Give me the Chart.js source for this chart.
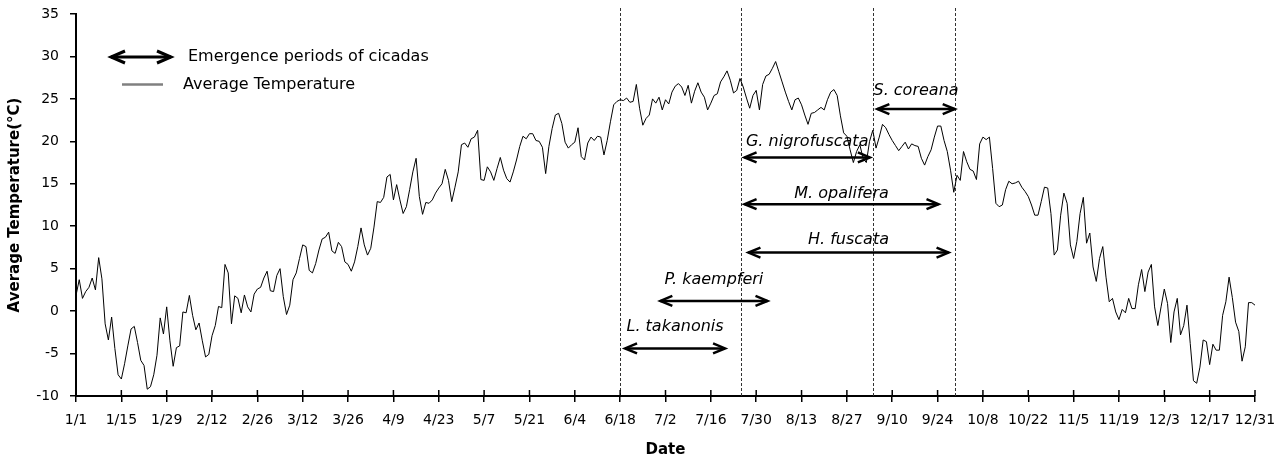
<!DOCTYPE html>
<html>
<head>
<meta charset="utf-8">
<script src="https://cdn.jsdelivr.net/npm/chart.js@4.4.1/dist/chart.umd.min.js"></script>
<style>
    html, body { margin: 0; padding: 0; background: #fff; }
    #wrap { width: 1285px; height: 464px; }
</style>
</head>
<body>
<div id="wrap"><canvas id="tempChart" width="1285" height="464"></canvas></div>
<script>
// daily average temperature, index 0 = 1/1 ... 364 = 12/31
const temps = [
    1.85, 3.7, 1.5, 2.3, 2.8, 3.9, 2.5, 6.3, 3.8, -1.5,
    -3.4, -0.7, -4.4, -7.5, -8.0, -6.2, -4.1, -2.1, -1.8, -3.7,
    -5.8, -6.4, -9.2, -8.9, -7.5, -5.2, -0.8, -2.7, 0.5, -3.5,
    -6.5, -4.3, -4.1, -0.1, -0.2, 1.85, -0.5, -2.2, -1.4, -3.5,
    -5.4, -5.1, -2.9, -1.7, 0.55, 0.4, 5.5, 4.5, -1.5, 1.8,
    1.5, -0.2, 1.9, 0.5, -0.1, 2.0, 2.6, 2.8, 3.9, 4.7,
    2.4, 2.3, 4.2, 5.0, 1.7, -0.4, 0.7, 3.7, 4.5, 6.2,
    7.8, 7.6, 4.8, 4.5, 5.6, 7.2, 8.5, 8.7, 9.3, 7.1,
    6.8, 8.1, 7.6, 5.8, 5.5, 4.7, 5.8, 7.6, 9.8, 7.8,
    6.6, 7.4, 9.9, 12.9, 12.8, 13.4, 15.8, 16.1, 13.1, 14.9,
    13.1, 11.5, 12.3, 14.3, 16.4, 18.0, 13.5, 11.4, 12.8, 12.7,
    13.1, 13.9, 14.5, 15.0, 16.7, 15.4, 12.9, 14.6, 16.4, 19.6,
    19.8, 19.3, 20.3, 20.5, 21.3, 15.5, 15.4, 17.0, 16.4, 15.4,
    16.8, 18.1, 16.6, 15.6, 15.2, 16.4, 17.8, 19.4, 20.6, 20.3,
    20.9, 20.9, 20.1, 20.0, 19.3, 16.2, 19.4, 21.5, 23.1, 23.3,
    22.1, 19.9, 19.2, 19.6, 19.9, 21.6, 18.2, 17.8, 19.8, 20.5,
    20.1, 20.6, 20.5, 18.4, 20.1, 22.3, 24.3, 24.7, 24.9, 24.8,
    25.1, 24.6, 24.7, 26.7, 23.9, 21.9, 22.7, 23.1, 25.0, 24.5,
    25.2, 23.7, 24.9, 24.4, 25.8, 26.5, 26.8, 26.4, 25.4, 26.6,
    24.5, 25.9, 26.9, 25.8, 25.2, 23.7, 24.5, 25.4, 25.6, 27.0,
    27.6, 28.3, 27.2, 25.7, 26.0, 27.4, 26.4, 25.1, 23.9, 25.4,
    26.0, 23.7, 26.7, 27.7, 27.9, 28.6, 29.4, 28.2, 27.0, 25.8,
    24.7, 23.7, 24.9, 25.1, 24.3, 23.1, 22.0, 23.3, 23.4, 23.7,
    24.0, 23.7, 24.9, 25.8, 26.1, 25.4, 23.0, 21.0, 20.6, 19.0,
    17.5, 18.8, 19.6, 18.0, 17.5, 20.0, 21.3, 19.2, 20.5, 22.0,
    21.6, 20.8, 20.1, 19.5, 18.9, 19.4, 19.9, 19.1, 19.7, 19.5,
    19.4, 18.0, 17.2, 18.2, 19.0, 20.5, 21.8, 21.8, 20.1, 18.8,
    16.6, 14.0, 16.0, 15.4, 18.8, 17.6, 16.7, 16.5, 15.5, 19.7,
    20.5, 20.2, 20.5, 16.8, 12.7, 12.3, 12.5, 14.3, 15.3, 15.0,
    15.1, 15.3, 14.6, 14.1, 13.5, 12.5, 11.3, 11.3, 12.9, 14.6,
    14.5, 11.5, 6.6, 7.2, 11.3, 13.9, 12.7, 7.8, 6.2, 8.2,
    11.5, 13.4, 8.0, 9.2, 5.2, 3.5, 6.2, 7.6, 4.0, 1.1,
    1.5, -0.1, -1.0, 0.2, -0.2, 1.5, 0.3, 0.3, 3.1, 4.9,
    2.3, 4.6, 5.5, 0.5, -1.7, 0.5, 2.6, 0.9, -3.7, -0.1,
    1.5, -2.8, -1.7, 0.7, -3.8, -8.2, -8.5, -6.6, -3.4, -3.6,
    -6.3, -3.9, -4.6, -4.6, -0.5, 1.1, 4.0, 1.6, -1.3, -2.4,
    -5.9, -4.2, 1.0, 1.0, 0.7
];

const tickLabels = ["1/1", "1/15", "1/29", "2/12", "2/26", "3/12", "3/26", "4/9", "4/23",
    "5/7", "5/21", "6/4", "6/18", "7/2", "7/16", "7/30", "8/13", "8/27", "9/10",
    "9/24", "10/8", "10/22", "11/5", "11/19", "12/3", "12/17", "12/31"];
const tickDays = tickLabels.map((_, i) => i * 14);

// emergence periods (day of year) and the temperature level the arrow sits at
const species = ["L. takanonis", "P. kaempferi", "H. fuscata", "M. opalifera", "G. nigrofuscata", "S. coreana"];
const periodStart = [169.2, 180.1, 207.3, 206.1, 206.1, 247.1];
const periodEnd = [200.7, 213.8, 269.7, 266.6, 245.4, 271.6];
const periodLevel = [-4.4, 1.2, 6.9, 12.6, 18.1, 23.8];
const boundaryDays = [168, 205.2, 246.1, 271.4];

// gap between arrow and the baseline of its label, px
const labelLift = [17, 17, 9, 6, 11, 14];

function drawArrow(ctx, x1, x2, y, head, spread, width) {
    ctx.save();
    ctx.strokeStyle = "#000";
    ctx.lineWidth = width;
    ctx.lineJoin = "miter";
    ctx.beginPath();
    ctx.moveTo(x1 + 1, y);
    ctx.lineTo(x2 - 1, y);
    ctx.stroke();
    ctx.beginPath();
    ctx.moveTo(x1 + head, y - spread);
    ctx.lineTo(x1 + 1, y);
    ctx.lineTo(x1 + head, y + spread);
    ctx.moveTo(x2 - head, y - spread);
    ctx.lineTo(x2 - 1, y);
    ctx.lineTo(x2 - head, y + spread);
    ctx.stroke();
    ctx.restore();
}

const overlay = {
    id: "overlay",
    beforeDatasetsDraw(chart) {
        const ctx = chart.ctx;
        const x = chart.scales.x;
        const area = chart.chartArea;
        ctx.save();
        ctx.strokeStyle = "#333";
        ctx.lineWidth = 1;
        ctx.setLineDash([3, 2]);
        boundaryDays.forEach(d => {
            const px = Math.round(x.getPixelForValue(d)) + 0.5;
            ctx.beginPath();
            ctx.moveTo(px, area.top - 6);
            ctx.lineTo(px, area.bottom);
            ctx.stroke();
        });
        ctx.restore();
    },
    afterDatasetsDraw(chart) {
        const ctx = chart.ctx;
        const x = chart.scales.x;
        const y = chart.scales.y;
        const area = chart.chartArea;

        // upper half of the x tick marks
        ctx.save();
        ctx.strokeStyle = "#000";
        ctx.lineWidth = 1.5;
        tickDays.forEach(d => {
            const px = x.getPixelForValue(d);
            ctx.beginPath();
            ctx.moveTo(px, area.bottom - 6);
            ctx.lineTo(px, area.bottom);
            ctx.stroke();
        });
        ctx.restore();

        species.forEach((name, i) => {
            const x1 = x.getPixelForValue(periodStart[i]);
            const x2 = x.getPixelForValue(periodEnd[i]);
            const py = y.getPixelForValue(periodLevel[i]);
            drawArrow(ctx, x1, x2, py, 13, 5, 2.5);
            ctx.save();
            ctx.font = "oblique 16px 'DejaVu Sans'";
            ctx.fillStyle = "#000";
            ctx.textAlign = "center";
            ctx.textBaseline = "alphabetic";
            ctx.fillText(name, (x1 + x2) / 2, py - labelLift[i]);
            ctx.restore();
        });

        // legend
        drawArrow(ctx, 110, 172, 57, 15, 6, 3);
        ctx.save();
        ctx.strokeStyle = "#808080";
        ctx.lineWidth = 2.5;
        ctx.beginPath();
        ctx.moveTo(122, 84.5);
        ctx.lineTo(163, 84.5);
        ctx.stroke();
        ctx.font = "16px 'DejaVu Sans'";
        ctx.fillStyle = "#000";
        ctx.textBaseline = "middle";
        ctx.fillText("Emergence periods of cicadas", 188, 57);
        ctx.fillText("Average Temperature", 183, 85);
        ctx.restore();
    }
};

new Chart(document.getElementById("tempChart"), {
    type: "line",
    data: {
        datasets: [{
            label: "Average Temperature",
            data: temps.map((t, i) => ({ x: i, y: t })),
            borderColor: "#000",
            borderWidth: 1,
            pointRadius: 0,
            tension: 0
        }]
    },
    options: {
        responsive: false,
        animation: false,
        devicePixelRatio: 1,
        layout: { padding: { top: 14, right: 30, left: 0, bottom: 0 } },
        plugins: {
            legend: { display: false },
            tooltip: { enabled: false }
        },
        scales: {
            x: {
                type: "linear",
                min: 0,
                max: 364,
                afterBuildTicks: s => { s.ticks = tickDays.map(v => ({ value: v })); },
                afterFit: s => { s.height = 68; s.paddingLeft = 0; s.paddingRight = 0; },
                ticks: {
                    autoSkip: false,
                    maxRotation: 0,
                    padding: 10,
                    color: "#000",
                    font: { family: "'DejaVu Sans'", size: 14 },
                    callback: v => tickLabels[tickDays.indexOf(v)]
                },
                grid: { drawOnChartArea: false, tickLength: 6, color: "#000", lineWidth: 1.5 },
                border: { display: true, color: "#000", width: 2 },
                title: {
                    display: true,
                    text: "Date",
                    color: "#000",
                    font: { family: "'DejaVu Sans'", size: 15, weight: "bold" },
                    padding: { top: 0, bottom: 5 }
                }
            },
            y: {
                min: -10,
                max: 35,
                afterFit: s => { s.width = 76; s.paddingTop = 0; s.paddingBottom = 0; },
                ticks: {
                    stepSize: 5,
                    padding: 11,
                    color: "#000",
                    font: { family: "'DejaVu Sans'", size: 14 }
                },
                grid: { drawOnChartArea: false, tickLength: 6, color: "#000", lineWidth: 1.5 },
                border: { display: true, color: "#000", width: 2 },
                title: {
                    display: true,
                    text: "Average Temperature(°C)",
                    color: "#000",
                    font: { family: "'DejaVu Sans'", size: 15, weight: "bold" },
                    padding: { top: 6, bottom: 0 }
                }
            }
        }
    },
    plugins: [overlay]
});
</script>
</body>
</html>
